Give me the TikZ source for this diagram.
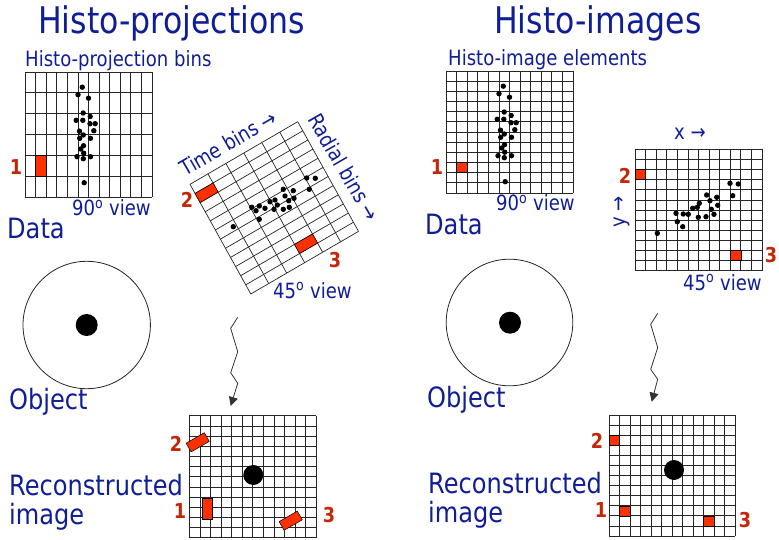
\documentclass[tikz,border=0pt]{standalone}
\usepackage{fontspec}
\setmainfont{DejaVu Sans}[FakeStretch=0.86]
\usetikzlibrary{arrows.meta}

\definecolor{labblue}{RGB}{16,30,150}
\definecolor{numred}{RGB}{196,38,8}
\definecolor{binred}{RGB}{255,48,0}

% grid of bins: columns, rows, width, height
\newcommand{\bingrid}[4]{%
  \foreach \i in {0,...,#1}
    \draw[gridline] ({\i*#3/#1},0) -- ({\i*#3/#1},#4);
  \foreach \j in {0,...,#2}
    \draw[gridline] (0,{\j*#4/#2}) -- (#3,{\j*#4/#2});
}
% one bin, also in a slanted frame: x0, y0, x1, y1
\newcommand{\binbox}[4]{%
  \filldraw[bin] (#1,#2) -- (#3,#2) -- (#3,#4) -- (#1,#4) -- cycle;
}
% events seen in the 90 degree view
\newcommand{\sideviewdots}{%
  \foreach \p in {(57.3,15.2),(53,22.7),(63.5,26.2),(58.2,41),(65.2,44.5),
      (51.2,48.3),(57.8,48.3),(70.2,51.7),(65,51.7),(68.8,58.7),(54.5,59.2),
      (58.3,63),(54.7,66.3),(65.5,66.3),(58.5,73.7),(55.7,77),(58.7,81.2),
      (52,84.7),(58.3,86.7),(65.5,84.7),(59.2,110.7)}
    \fill \p circle (2.7);
}

\begin{document}
\begin{tikzpicture}[
        x=1pt, y=-1pt,
        gridline/.style={line width=0.7pt, black!85},
        bin/.style={fill=binred, draw=black, line width=0.5pt},
        binnode/.style={bin, inner sep=0pt, minimum width=21pt, minimum height=10pt},
        title/.style={font=\fontsize{36.7}{40}\selectfont, text=labblue,
                      inner sep=0pt, anchor=base west},
        lab/.style={font=\fontsize{28}{29.5}\selectfont, text=labblue,
                    inner sep=0pt, align=left},
        small/.style={font=\fontsize{21}{24}\selectfont, text=labblue, inner sep=0pt},
        num/.style={font=\fontsize{20.5}{22}\selectfont\bfseries, text=numred, inner sep=0pt},
        zz/.style={line width=0.8pt, black!80, -{Triangle[length=9pt,width=9pt]}}
    ]
    \path[use as bounding box, fill=white] (0,0) rectangle (779,540);

    %% ---- left half: histo-projections ----
    \node[title] (ttlL) at (38,34) {Histo-projections};
    \node[small, anchor=base west] (hpbins) at (25,67) {Histo-projection bins};

    \begin{scope}[shift={(25,72)}]
        \bingrid{12}{6}{127}{125}
        \binbox{10.58}{83.3}{21.17}{104.2}
        \sideviewdots
    \end{scope}
    \node[num] (n1a) at (16,167) {1};
    \node[small, anchor=base west] (v90L) at (72,216) {90\textsuperscript{o} view};
    \node[lab, anchor=base west] (dataL) at (7,238) {Data};

    % rotated 45 degree view
    \begin{scope}[shift={(190,184.3)}, x={(0.4848pt,-0.8746pt)}, y={(0.8646pt,0.5025pt)}]
        \bingrid{12}{6}{125.4}{124.6}
        \binbox{10.45}{0}{20.9}{20.77}
        \binbox{104.5}{62.3}{114.95}{83.1}
    \end{scope}
    \foreach \p in {(233.3,226.7),(251.7,207.3),(259.3,206),(265,208.3),(256,210.7),
        (259.3,219.3),(270,201.7),(275,200),(274,209.3),(283.3,189.3),(285,196),
        (293.3,190.7),(288.7,200.7),(294,198.3),(283.3,209.3),(289.3,207.3),
        (306.7,178),(315.3,178.3),(309.3,189.3),(277.3,205)}
        \fill \p circle (2.7);
    \node[small, rotate=30] (tbins) at (228,143) {Time bins →};
    \node[small, rotate=-60] (rbins) at (344,167) {Radial bins →};
    \node[num] (n2a) at (187,200) {2};
    \node[num] (n3a) at (335,260) {3};
    \node[small, anchor=base west] (v45L) at (273,298) {45\textsuperscript{o} view};

    % object
    \draw[line width=0.8pt, black!85] (86.7,325) circle (63.7);
    \fill (86.7,325) circle (11);
    \node[lab, anchor=base west] (objL) at (9,409) {Object};

    % reconstruction
    \coordinate (zzLtop) at (237.7,317.3);
    \coordinate (zzLtip) at (230.7,406);
    \draw[zz] (zzLtop) -- ++(-7,11) -- ++(7,23.4) -- ++(-7,21) -- ++(7,10.6) -- (zzLtip);

    \begin{scope}[shift={(189.3,415.7)}]
        \bingrid{12}{12}{127}{122}
        \fill (64,59.3) circle (10);
    \end{scope}
    \node[binnode, rotate=30] (rb2) at (197.7,442.3) {};
    \node[binnode, rotate=90] (rb1) at (207.5,509) {};
    \node[binnode, rotate=30] (rb3) at (290.7,520.7) {};
    \node[num] (n2b) at (176,444) {2};
    \node[num] (n1b) at (180,511) {1};
    \node[num] (n3b) at (329,515) {3};
    \node[lab, anchor=north west] (recL) at (9,474) {Reconstructed\\image};

    %% ---- right half: histo-images ----
    \node[title] (ttlR) at (494,34) {Histo-images};
    \node[small, anchor=base west] (hielem) at (448,66) {Histo-image elements};

    \begin{scope}[shift={(446,71)}]
        \bingrid{12}{12}{127}{122}
        \binbox{10.58}{91.5}{21.17}{101.7}
        \sideviewdots
    \end{scope}
    \node[num] (n1c) at (437,167) {1};
    \node[small, anchor=base west] (v90R) at (496,211) {90\textsuperscript{o} view};
    \node[lab, anchor=base west] (dataR) at (425,235) {Data};

    % 45 degree view as image
    \begin{scope}[shift={(635,149.3)}]
        \bingrid{12}{12}{127}{121.5}
        \binbox{0}{20.25}{10.58}{30.4}
        \binbox{95.25}{101.25}{105.8}{111.4}
    \end{scope}
    \foreach \p in {(657.3,233.3),(676,213.3),(677.3,221.7),(682.7,226.7),(683.3,214),
        (688.3,214.3),(692.7,208.3),(697.3,207.3),(699.3,203.3),(698.3,217.3),
        (706.7,195),(710,200.7),(706,216.7),(711.3,209.3),(716.7,197.3),
        (717.7,205.3),(714,214.3),(730,183.3),(738.3,184),(732.7,195.7)}
        \fill \p circle (2.7);
    \node[small] (xax) at (690,134) {x →};
    \node[small, rotate=90] (yax) at (622,212) {y →};
    \node[num] (n2c) at (625,176) {2};
    \node[num] (n3c) at (771,255) {3};
    \node[small, anchor=base west] (v45R) at (683,290) {45\textsuperscript{o} view};

    % object
    \draw[line width=0.8pt, black!85] (509.5,322.5) circle (63.3);
    \fill (510,322.7) circle (11);
    \node[lab, anchor=base west] (objR) at (427,407) {Object};

    % reconstruction
    \coordinate (zzRtop) at (657.7,313.3);
    \coordinate (zzRtip) at (651.7,401.7);
    \draw[zz] (zzRtop) -- ++(-7,11) -- ++(7,23.4) -- ++(-7,21.6) -- ++(7,10) -- (zzRtip);

    \begin{scope}[shift={(609,415)}]
        \bingrid{12}{12}{126}{121}
        \fill (65,55) circle (10);
        \binbox{0}{20.2}{10.5}{30.25}
        \binbox{10.5}{90.75}{21}{100.8}
        \binbox{94.5}{100.8}{105}{110.9}
    \end{scope}
    \node[num] (n2d) at (597,441) {2};
    \node[num] (n1d) at (601,510) {1};
    \node[num] (n3d) at (745,520) {3};
    \node[lab, anchor=north west] (recR) at (428,472) {Reconstructed\\image};
\end{tikzpicture}
\end{document}
